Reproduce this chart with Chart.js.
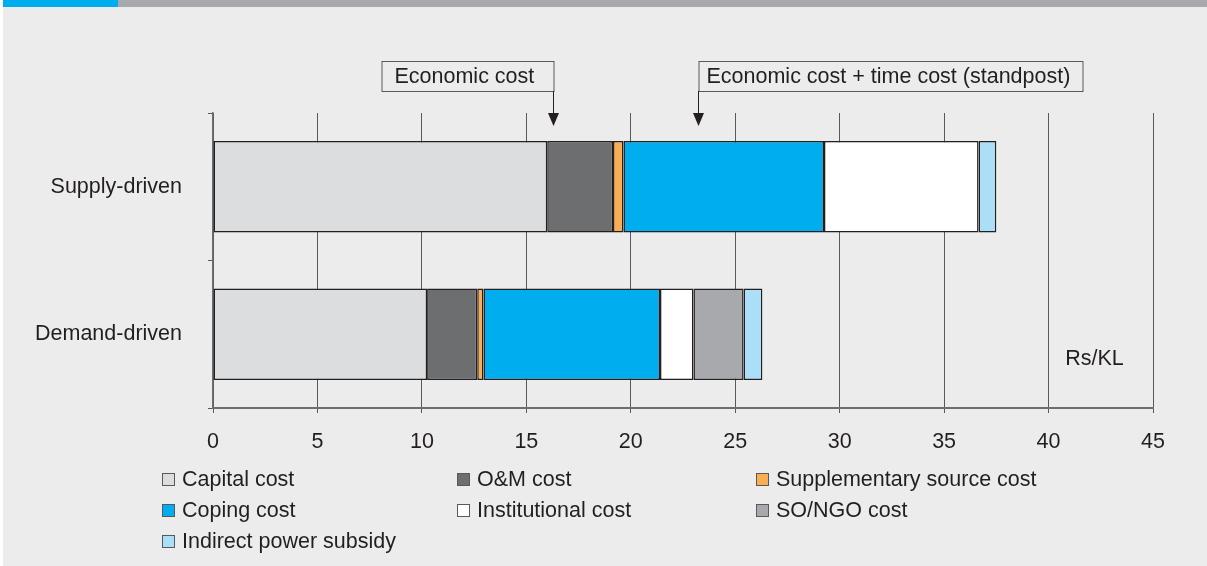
<!DOCTYPE html>
<html>
<head>
<meta charset="utf-8">
<script src="https://cdn.jsdelivr.net/npm/chart.js@4.4.1/dist/chart.umd.min.js"></script>
<style>
  html, body { margin: 0; padding: 0; background: #ffffff; }
  #page { position: relative; width: 1207px; height: 566px; overflow: hidden; }
  #panel { position: absolute; left: 3px; top: 0; width: 1204px; height: 566px; background: #ebeceb; }
  #strip-blue { position: absolute; left: 3px; top: 0; width: 115px; height: 7px; background: #00aeef; }
  #strip-grey { position: absolute; left: 118px; top: 0; width: 1089px; height: 7px; background: #a7a9ac; }
  #chart { position: absolute; left: 0; top: 0; }
  #legend {
    position: absolute; left: 162px; top: 464px;
    display: grid; grid-template-columns: 295px 299px 300px; grid-auto-rows: 31px;
    font-family: "Liberation Sans", Arial, sans-serif; font-size: 21.5px; color: #231f20;
  }
  .item { display: flex; align-items: center; white-space: nowrap; }
  .swatch { width: 11px; height: 11px; border: 1px solid #58595b; margin-right: 7px; flex: none; }
</style>
</head>
<body>
<div id="page">
  <div id="panel"></div>
  <div id="strip-blue"></div>
  <div id="strip-grey"></div>
  <canvas id="chart" width="1207" height="566"></canvas>
  <div id="legend"></div>
</div>
<script>
const categories = ["Supply-driven", "Demand-driven"];

const capitalCost = [16.0, 10.25];
const omCost = [3.15, 2.4];
const supplementaryCost = [0.5, 0.3];
const copingCost = [9.6, 8.45];
const institutionalCost = [7.4, 1.6];
const soNgoCost = [null, 2.4];
const powerSubsidy = [0.85, 0.9];

const seriesNames = [
  "Capital cost",
  "O&M cost",
  "Supplementary source cost",
  "Coping cost",
  "Institutional cost",
  "SO/NGO cost",
  "Indirect power subsidy",
];
const seriesValues = [capitalCost, omCost, supplementaryCost, copingCost, institutionalCost, soNgoCost, powerSubsidy];
const seriesColors = ["#dcdddf", "#6d6e70", "#fbad52", "#00aeef", "#ffffff", "#a7a9ac", "#abdff9"];

const xMin = 0;
const xMax = 45;
const xStep = 5;

// where the two arrows point, in Rs/KL
const economicCostAt = 16.3;
const timeCostAt = 23.2;
const unitLabel = "Rs/KL";
const unitLabelAt = 42.2;

const FONT = '"Liberation Sans", Arial, sans-serif';
const INK = "#231f20";

Chart.defaults.font.family = FONT;
Chart.defaults.font.size = 21.5;
Chart.defaults.color = INK;

const datasets = seriesNames.map((name, i) => ({
  label: name,
  data: seriesValues[i],
  backgroundColor: seriesColors[i],
  borderColor: INK,
  borderWidth: 1.5,
  borderSkipped: false,
  barPercentage: 0.62,
  categoryPercentage: 1,
}));

// boxes with arrows above the plot + the unit label
const calloutPlugin = {
  id: "callouts",
  afterDraw(chart) {
    const ctx = chart.ctx;
    const x = chart.scales.x;
    const y = chart.scales.y;
    const boxTop = 61, boxH = 30, tipY = 126;

    function box(left, width, text, padLeft) {
      ctx.fillStyle = "#ebeceb";
      ctx.fillRect(left, boxTop, width, boxH);
      ctx.strokeStyle = "#58595b";
      ctx.lineWidth = 1;
      ctx.strokeRect(left + 0.5, boxTop + 0.5, width, boxH);
      ctx.fillStyle = INK;
      ctx.font = "21.5px " + FONT;
      ctx.textAlign = "left";
      ctx.textBaseline = "middle";
      ctx.fillText(text, left + padLeft, boxTop + boxH / 2 + 1);
    }
    function arrow(px) {
      ctx.strokeStyle = INK;
      ctx.lineWidth = 1;
      ctx.beginPath();
      ctx.moveTo(px, boxTop + boxH);
      ctx.lineTo(px, tipY - 10);
      ctx.stroke();
      ctx.fillStyle = INK;
      ctx.beginPath();
      ctx.moveTo(px - 5.5, tipY - 13);
      ctx.lineTo(px + 5.5, tipY - 13);
      ctx.lineTo(px, tipY);
      ctx.closePath();
      ctx.fill();
    }

    const p1 = Math.round(x.getPixelForValue(economicCostAt)) + 0.5;
    box(p1 - 172, 172, "Economic cost", 13);
    arrow(p1);

    const p2 = Math.round(x.getPixelForValue(timeCostAt)) + 0.5;
    box(p2, 384, "Economic cost + time cost (standpost)", 8);
    arrow(p2);

    ctx.fillStyle = INK;
    ctx.font = "21.5px " + FONT;
    ctx.textAlign = "center";
    ctx.textBaseline = "middle";
    ctx.fillText(unitLabel, x.getPixelForValue(unitLabelAt), y.getPixelForValue(1) + 25);
  },
};

new Chart(document.getElementById("chart").getContext("2d"), {
  type: "bar",
  data: { labels: categories, datasets: datasets },
  options: {
    indexAxis: "y",
    responsive: false,
    animation: false,
    layout: { padding: { top: 113, right: 54, bottom: 98, left: 0 } },
    plugins: {
      legend: { display: false },
      tooltip: { enabled: false },
    },
    scales: {
      x: {
        stacked: true,
        min: xMin,
        max: xMax,
        ticks: { stepSize: xStep, padding: 16, color: INK },
        grid: { color: "#58595b", lineWidth: 1, tickLength: 5, drawTicks: true },
        border: { color: "#6d6e70", width: 2 },
        afterFit(scale) { scale.height = 60; },
      },
      y: {
        stacked: true,
        ticks: { padding: 26, color: INK },
        grid: { drawOnChartArea: false, drawTicks: true, tickLength: 5, color: "#58595b" },
        border: { color: "#6d6e70", width: 1.5 },
        afterFit(scale) { scale.width = 213; },
      },
    },
  },
  plugins: [calloutPlugin],
});

// legend laid out in three columns like the original
const legend = document.getElementById("legend");
seriesNames.forEach((name, i) => {
  const item = document.createElement("div");
  item.className = "item";
  const sw = document.createElement("span");
  sw.className = "swatch";
  sw.style.background = seriesColors[i];
  item.appendChild(sw);
  item.appendChild(document.createTextNode(name));
  legend.appendChild(item);
});
</script>
</body>
</html>
